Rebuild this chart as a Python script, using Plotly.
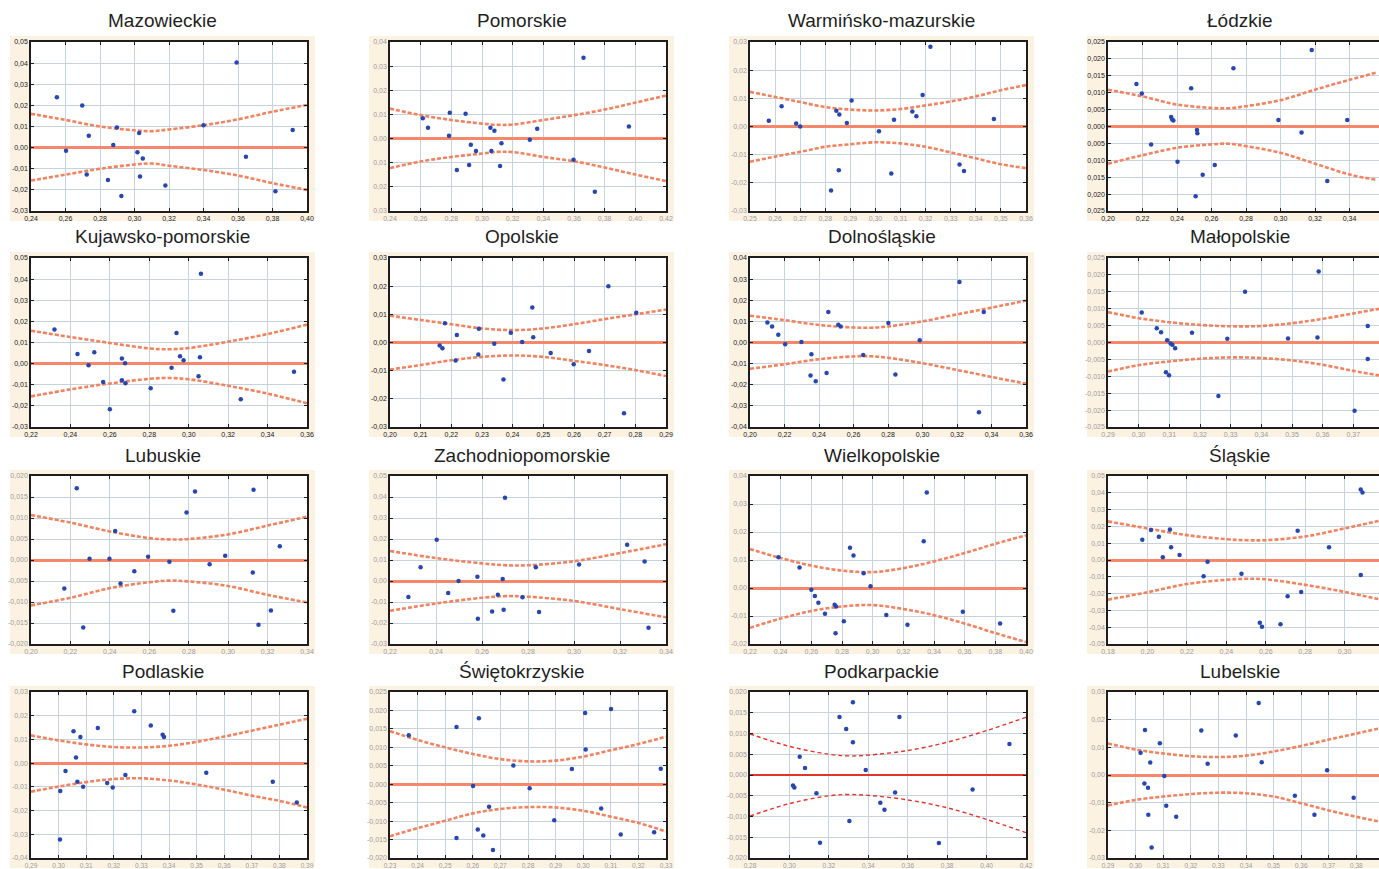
import numpy as np
import plotly.graph_objects as go

W, H = 1379, 869

# ---------------- data ----------------
maz_x = [0.255, 0.2603, 0.2697, 0.2723, 0.2735, 0.2846, 0.2877, 0.2898, 0.2924, 0.3017, 0.3027, 0.3032, 0.3048, 0.3179, 0.340, 0.3592, 0.3646, 0.3817, 0.3917]
maz_y = [0.0238, -0.0015, 0.0199, -0.0127, 0.0056, -0.0153, 0.0012, 0.0095, -0.0229, -0.0022, 0.0069, -0.0137, -0.0052, -0.0179, 0.0106, 0.0403, -0.0043, -0.0207, 0.0083]
maz_bx = [0.24, 0.26, 0.28, 0.30, 0.31, 0.32, 0.34, 0.36, 0.38, 0.40]
maz_up = [0.0160, 0.0131, 0.0100, 0.0082, 0.0078, 0.0086, 0.0106, 0.0134, 0.0170, 0.0202]
maz_lo = [-0.0156, -0.0128, -0.0100, -0.0080, -0.0075, -0.0086, -0.0106, -0.0132, -0.0168, -0.0200]

pom_x = [0.2614, 0.2648, 0.279, 0.2785, 0.2893, 0.2927, 0.2916, 0.2836, 0.2961, 0.3055, 0.3081, 0.3061, 0.3127, 0.3118, 0.3312, 0.336, 0.3597, 0.3662, 0.3736, 0.3958]
pom_y = [0.0084, 0.0045, 0.0107, 0.0012, 0.0103, -0.0026, -0.0109, -0.013, -0.0051, 0.0045, 0.0032, -0.0051, -0.0019, -0.0114, -0.0005, 0.0041, -0.0088, 0.0335, -0.022, 0.005]
pom_bx = [0.24, 0.26, 0.28, 0.30, 0.31, 0.32, 0.34, 0.36, 0.38, 0.40, 0.42]
pom_up = [0.0124, 0.0097, 0.0077, 0.0062, 0.0057, 0.0058, 0.0077, 0.0097, 0.0120, 0.0149, 0.0178]
pom_lo = [-0.0122, -0.0095, -0.0076, -0.0062, -0.0055, -0.0056, -0.0076, -0.0094, -0.0120, -0.0149, -0.0176]

war_x = [0.2575, 0.2626, 0.2684, 0.270, 0.2823, 0.2844, 0.2856, 0.2854, 0.2886, 0.2905, 0.3014, 0.3063, 0.3074, 0.3147, 0.3163, 0.3188, 0.3219, 0.3335, 0.3353, 0.3472]
war_y = [0.002, 0.0072, 0.0011, 0.0, -0.0227, 0.0056, 0.0043, -0.0155, 0.0012, 0.0092, -0.0017, -0.0167, 0.0024, 0.0053, 0.0036, 0.0112, 0.0283, -0.0135, -0.0158, 0.0027]
war_bx = [0.25, 0.26, 0.27, 0.28, 0.29, 0.30, 0.31, 0.32, 0.33, 0.34, 0.35, 0.36]
war_up = [0.0123, 0.0105, 0.0087, 0.0069, 0.0060, 0.0057, 0.0062, 0.0075, 0.0089, 0.0107, 0.0129, 0.0147]
war_lo = [-0.0125, -0.0107, -0.0090, -0.0072, -0.0063, -0.0056, -0.0060, -0.0072, -0.0092, -0.0113, -0.0134, -0.0148]

lod_x = [0.2165, 0.2196, 0.225, 0.2366, 0.2372, 0.2379, 0.2403, 0.2482, 0.2516, 0.2518, 0.2508, 0.2549, 0.2619, 0.2727, 0.2988, 0.3122, 0.3181, 0.3271, 0.3387]
lod_y = [0.0126, 0.0098, -0.0053, 0.0028, 0.0021, 0.0018, -0.0104, 0.0113, -0.001, -0.002, -0.0206, -0.0143, -0.0114, 0.0172, 0.0019, -0.0018, 0.0226, -0.0161, 0.0019]
lod_bx = [0.20, 0.22, 0.24, 0.26, 0.27, 0.28, 0.30, 0.32, 0.34, 0.356]
lod_up = [0.0109, 0.0089, 0.0065, 0.0055, 0.0054, 0.0060, 0.0078, 0.0109, 0.0138, 0.0160]
lod_lo = [-0.0110, -0.0085, -0.0063, -0.0053, -0.0051, -0.0058, -0.0078, -0.0110, -0.0142, -0.0158]

kuj_x = [0.2319, 0.2436, 0.2492, 0.2521, 0.2566, 0.260, 0.2661, 0.2677, 0.2661, 0.2679, 0.2807, 0.2913, 0.2938, 0.2956, 0.2974, 0.3062, 0.3057, 0.305, 0.3264, 0.3534]
kuj_y = [0.0161, 0.0046, -0.0008, 0.0054, -0.0087, -0.0216, 0.0024, 0.0002, -0.0079, -0.0093, -0.0117, -0.002, 0.0145, 0.0035, 0.0016, 0.0426, 0.003, -0.006, -0.0169, -0.0038]
kuj_bx = [0.22, 0.24, 0.26, 0.28, 0.29, 0.30, 0.32, 0.34, 0.36]
kuj_up = [0.0156, 0.0126, 0.0098, 0.0072, 0.0068, 0.0074, 0.0104, 0.0140, 0.0185]
kuj_lo = [-0.0155, -0.0122, -0.0094, -0.0072, -0.0068, -0.0074, -0.0105, -0.0142, -0.0188]

opo_x = [0.2162, 0.2171, 0.2179, 0.2218, 0.2214, 0.2288, 0.2290, 0.234, 0.237, 0.2394, 0.2431, 0.2464, 0.2467, 0.2524, 0.2599, 0.2649, 0.2712, 0.2763, 0.2803]
opo_y = [-0.0011, -0.002, 0.0068, 0.0027, -0.0064, -0.0043, 0.0049, -0.0004, -0.0131, 0.0035, 0.0002, 0.0124, 0.0019, -0.0037, -0.0077, -0.003, 0.020, -0.0251, 0.0106]
opo_bx = [0.20, 0.21, 0.22, 0.23, 0.24, 0.25, 0.26, 0.27, 0.28, 0.29]
opo_up = [0.0095, 0.0080, 0.0065, 0.0050, 0.0044, 0.0050, 0.0065, 0.0083, 0.0100, 0.0117]
opo_lo = [-0.0096, -0.0080, -0.0063, -0.0051, -0.0046, -0.0051, -0.0065, -0.0080, -0.0098, -0.0119]

dol_x = [0.2101, 0.2128, 0.2164, 0.2204, 0.2298, 0.2356, 0.2351, 0.2381, 0.2444, 0.2454, 0.2512, 0.2525, 0.2656, 0.2802, 0.2843, 0.2984, 0.3214, 0.3327, 0.3355]
dol_y = [0.0095, 0.0076, 0.0037, -0.0008, 0.0002, -0.0056, -0.0156, -0.0183, -0.0144, 0.0144, 0.0084, 0.0076, -0.0059, 0.0092, -0.0151, 0.0011, 0.0286, -0.033, 0.0144]
dol_bx = [0.20, 0.22, 0.24, 0.26, 0.27, 0.28, 0.30, 0.32, 0.34, 0.36]
dol_up = [0.0127, 0.0106, 0.0083, 0.0071, 0.0070, 0.0076, 0.0100, 0.0133, 0.0165, 0.0198]
dol_lo = [-0.0124, -0.0103, -0.0079, -0.0066, -0.0065, -0.0072, -0.0098, -0.0130, -0.0163, -0.0195]

mal_x = [0.3010, 0.3059, 0.3073, 0.3093, 0.3104, 0.311, 0.3119, 0.3089, 0.3099, 0.3174, 0.326, 0.3289, 0.3347, 0.3487, 0.3587, 0.3583, 0.3704, 0.3747, 0.3747]
mal_y = [0.0089, 0.0042, 0.003, 0.0007, -0.0003, -0.0007, -0.0017, -0.0088, -0.0097, 0.0029, -0.0158, 0.0011, 0.015, 0.0012, 0.021, 0.0015, -0.0202, 0.0049, -0.0049]
mal_bx = [0.29, 0.30, 0.31, 0.32, 0.33, 0.34, 0.35, 0.36, 0.37, 0.38]
mal_up = [0.0090, 0.0072, 0.0060, 0.0052, 0.0048, 0.0049, 0.0057, 0.0070, 0.0086, 0.0102]
mal_lo = [-0.0086, -0.0067, -0.0056, -0.0048, -0.0044, -0.0046, -0.0053, -0.0066, -0.0084, -0.0100]

lub_x = [0.2169, 0.2232, 0.2265, 0.2297, 0.2398, 0.2427, 0.2454, 0.2524, 0.2594, 0.2702, 0.2722, 0.2789, 0.2832, 0.2906, 0.2985, 0.3125, 0.3129, 0.3154, 0.3217, 0.3262]
lub_y = [-0.0068, 0.0171, -0.0161, 0.0003, 0.0003, 0.0069, -0.0056, -0.0027, 0.0008, -0.0004, -0.0121, 0.0113, 0.0163, -0.001, 0.001, -0.003, 0.0167, -0.0154, -0.012, 0.0033]
lub_bx = [0.20, 0.22, 0.24, 0.26, 0.27, 0.28, 0.30, 0.32, 0.34]
lub_up = [0.0107, 0.0089, 0.0068, 0.0052, 0.0049, 0.0050, 0.0061, 0.0082, 0.0103]
lub_lo = [-0.0108, -0.0090, -0.0067, -0.0053, -0.0049, -0.0051, -0.0062, -0.0083, -0.0101]

zac_x = [0.228, 0.2333, 0.2403, 0.2453, 0.2498, 0.258, 0.2582, 0.2644, 0.2669, 0.269, 0.270, 0.2694, 0.2776, 0.2834, 0.2848, 0.3022, 0.3231, 0.3307, 0.3324]
zac_y = [-0.0076, 0.0065, 0.0196, -0.0057, 0.0, 0.002, -0.018, -0.0145, -0.0066, 0.001, 0.0397, -0.0137, -0.0077, 0.0065, -0.0148, 0.0079, 0.0173, 0.0093, -0.0223]
zac_bx = [0.22, 0.24, 0.26, 0.27, 0.28, 0.30, 0.32, 0.34]
zac_up = [0.0143, 0.0109, 0.0084, 0.0075, 0.0075, 0.0094, 0.0133, 0.0175]
zac_lo = [-0.0142, -0.0107, -0.0080, -0.0072, -0.0075, -0.0095, -0.0134, -0.0173]

wie_x = [0.2386, 0.2523, 0.260, 0.2623, 0.2646, 0.2689, 0.2752, 0.2761, 0.2812, 0.2758, 0.2852, 0.2875, 0.2941, 0.2986, 0.3089, 0.3227, 0.3333, 0.3353, 0.3588, 0.3831]
wie_y = [0.011, 0.0073, -0.0006, -0.0029, -0.0053, -0.0092, -0.006, -0.0066, -0.0119, -0.0162, 0.0144, 0.0116, 0.0053, 0.0006, -0.0096, -0.0131, 0.0167, 0.0341, -0.0085, -0.0127]
wie_bx = [0.22, 0.24, 0.26, 0.28, 0.30, 0.32, 0.34, 0.36, 0.38, 0.40]
wie_up = [0.0139, 0.0107, 0.0080, 0.0062, 0.0057, 0.0071, 0.0095, 0.0125, 0.0158, 0.0188]
wie_lo = [-0.0142, -0.0109, -0.0082, -0.0066, -0.0061, -0.0075, -0.0097, -0.0127, -0.0161, -0.0193]

sla_x = [0.1974, 0.2018, 0.2058, 0.2114, 0.2078, 0.2120, 0.2163, 0.2285, 0.2305, 0.2477, 0.257, 0.2581, 0.2675, 0.2711, 0.2762, 0.278, 0.2921, 0.3082, 0.3091, 0.3082]
sla_y = [0.012, 0.0178, 0.0138, 0.0182, 0.0016, 0.0076, 0.003, -0.0096, -0.001, -0.0082, -0.0374, -0.0398, -0.0382, -0.0216, 0.0174, -0.019, 0.0076, 0.042, 0.0402, -0.009]
sla_bx = [0.18, 0.20, 0.22, 0.24, 0.25, 0.26, 0.28, 0.30, 0.32]
sla_up = [0.0230, 0.0188, 0.0148, 0.0124, 0.0118, 0.0118, 0.0140, 0.0188, 0.0240]
sla_lo = [-0.0236, -0.0192, -0.0143, -0.0118, -0.0112, -0.0115, -0.0148, -0.0190, -0.0240]

pdl_x = [0.3006, 0.3005, 0.3025, 0.3054, 0.3063, 0.3068, 0.3079, 0.3089, 0.3142, 0.3176, 0.3196, 0.3242, 0.3274, 0.3334, 0.3377, 0.3382, 0.3535, 0.3776, 0.3863]
pdl_y = [-0.0117, -0.0322, -0.0033, 0.0135, 0.0024, -0.0078, 0.011, -0.01, 0.0148, -0.0084, -0.0103, -0.005, 0.0219, 0.0159, 0.012, 0.011, -0.004, -0.0078, -0.0166]
pdl_bx = [0.29, 0.30, 0.31, 0.32, 0.33, 0.34, 0.35, 0.36, 0.37, 0.38, 0.39]
pdl_up = [0.0117, 0.0096, 0.0079, 0.0068, 0.0066, 0.0073, 0.0090, 0.0112, 0.0137, 0.0162, 0.0187]
pdl_lo = [-0.0120, -0.0099, -0.0080, -0.0067, -0.0064, -0.0073, -0.0090, -0.0112, -0.0137, -0.0159, -0.0187]

swi_x = [0.2368, 0.2541, 0.2622, 0.2541, 0.2601, 0.2618, 0.2638, 0.2659, 0.2673, 0.2747, 0.2806, 0.2895, 0.2959, 0.3007, 0.3009, 0.3065, 0.3101, 0.3136, 0.3257, 0.3281]
swi_y = [0.0133, 0.0155, 0.0179, -0.0146, -0.0005, -0.0123, -0.0139, -0.0061, -0.0178, 0.0051, -0.0011, -0.0098, 0.0041, 0.0193, 0.0094, -0.0066, 0.0204, -0.0136, -0.013, 0.0042]
swi_bx = [0.23, 0.24, 0.25, 0.26, 0.27, 0.28, 0.29, 0.30, 0.31, 0.32, 0.33]
swi_up = [0.0144, 0.0120, 0.0100, 0.0082, 0.0068, 0.0062, 0.0064, 0.0075, 0.0092, 0.0109, 0.0129]
swi_lo = [-0.0141, -0.0119, -0.0099, -0.0079, -0.0067, -0.0062, -0.0063, -0.0072, -0.0088, -0.0105, -0.0128]

pdk_x = [0.3018, 0.3025, 0.3052, 0.3079, 0.3137, 0.3155, 0.3254, 0.3288, 0.3304, 0.3322, 0.3322, 0.3387, 0.3461, 0.3482, 0.3536, 0.3558, 0.3758, 0.3929, 0.4116]
pdk_y = [-0.0025, -0.003, 0.0044, 0.0017, -0.0044, -0.0163, 0.014, 0.0111, -0.0111, 0.0175, 0.0079, 0.0012, -0.0067, -0.0084, -0.0042, 0.014, -0.0164, -0.0035, 0.0075]
pdk_bx = [0.28, 0.30, 0.32, 0.33, 0.34, 0.36, 0.38, 0.40, 0.42]
pdk_up = [0.0099, 0.0069, 0.0050, 0.0046, 0.0048, 0.0059, 0.0079, 0.0107, 0.0139]
pdk_lo = [-0.0099, -0.0069, -0.0050, -0.0047, -0.0049, -0.0060, -0.0079, -0.0107, -0.0139]

lbl_x = [0.3018, 0.3034, 0.3032, 0.3045, 0.3053, 0.3046, 0.3058, 0.3088, 0.3104, 0.3111, 0.3147, 0.3238, 0.3261, 0.3363, 0.3446, 0.3457, 0.3577, 0.3648, 0.3694, 0.3790]
lbl_y = [0.008, 0.0163, -0.0031, -0.0046, 0.0045, -0.0144, -0.0262, 0.0115, -0.0004, -0.0111, -0.0151, 0.0161, 0.0041, 0.0143, 0.026, 0.0046, -0.0075, -0.0144, 0.0017, -0.0082]
lbl_bx = [0.29, 0.30, 0.31, 0.32, 0.33, 0.34, 0.35, 0.36, 0.37, 0.38, 0.39]
lbl_up = [0.0114, 0.0092, 0.0078, 0.0068, 0.0065, 0.0070, 0.0085, 0.0105, 0.0128, 0.0150, 0.0172]
lbl_lo = [-0.0110, -0.0090, -0.0078, -0.0069, -0.0064, -0.0066, -0.0078, -0.0102, -0.0128, -0.0151, -0.0172]

titles = ["Mazowieckie", "Pomorskie", "Warmińsko-mazurskie", "Łódzkie",
          "Kujawsko-pomorskie", "Opolskie", "Dolnośląskie", "Małopolskie",
          "Lubuskie", "Zachodniopomorskie", "Wielkopolskie", "Śląskie",
          "Podlaskie", "Świętokrzyskie", "Podkarpackie", "Lubelskie"]

series = [
    (maz_x, maz_y, maz_bx, maz_up, maz_lo), (pom_x, pom_y, pom_bx, pom_up, pom_lo),
    (war_x, war_y, war_bx, war_up, war_lo), (lod_x, lod_y, lod_bx, lod_up, lod_lo),
    (kuj_x, kuj_y, kuj_bx, kuj_up, kuj_lo), (opo_x, opo_y, opo_bx, opo_up, opo_lo),
    (dol_x, dol_y, dol_bx, dol_up, dol_lo), (mal_x, mal_y, mal_bx, mal_up, mal_lo),
    (lub_x, lub_y, lub_bx, lub_up, lub_lo), (zac_x, zac_y, zac_bx, zac_up, zac_lo),
    (wie_x, wie_y, wie_bx, wie_up, wie_lo), (sla_x, sla_y, sla_bx, sla_up, sla_lo),
    (pdl_x, pdl_y, pdl_bx, pdl_up, pdl_lo), (swi_x, swi_y, swi_bx, swi_up, swi_lo),
    (pdk_x, pdk_y, pdk_bx, pdk_up, pdk_lo), (lbl_x, lbl_y, lbl_bx, lbl_up, lbl_lo),
]

# axis settings: (xmin, xmax, xstep, ymin, ymax, ystep, ydecimals, dark labels, y minus sign)
axes_cfg = [
    (0.24, 0.40, 0.02, -0.03, 0.05, 0.01, 2, True, True),
    (0.24, 0.42, 0.02, -0.03, 0.04, 0.01, 2, False, False),
    (0.25, 0.36, 0.01, -0.03, 0.03, 0.01, 2, False, True),
    (0.20, 0.36, 0.02, -0.025, 0.025, 0.005, 3, True, False),
    (0.22, 0.36, 0.02, -0.03, 0.05, 0.01, 2, True, True),
    (0.20, 0.29, 0.01, -0.03, 0.03, 0.01, 2, True, True),
    (0.20, 0.36, 0.02, -0.04, 0.04, 0.01, 2, True, True),
    (0.29, 0.38, 0.01, -0.025, 0.025, 0.005, 3, False, True),
    (0.20, 0.34, 0.02, -0.020, 0.020, 0.005, 3, False, True),
    (0.22, 0.34, 0.02, -0.03, 0.05, 0.01, 2, False, True),
    (0.22, 0.40, 0.02, -0.02, 0.04, 0.01, 2, False, True),
    (0.18, 0.32, 0.02, -0.05, 0.05, 0.01, 2, False, True),
    (0.29, 0.39, 0.01, -0.04, 0.03, 0.01, 2, False, True),
    (0.23, 0.33, 0.01, -0.020, 0.025, 0.005, 3, False, True),
    (0.28, 0.42, 0.02, -0.020, 0.020, 0.005, 3, False, True),
    (0.29, 0.39, 0.01, -0.03, 0.03, 0.01, 2, False, True),
]

# ---------------- layout geometry (pixels) ----------------
COL_LEFT = [31, 390, 750, 1108]
ROW_TOP = [42, 258, 476, 692]
ROW_H = [169, 169, 168, 166]
PW = 276

CREAM = "#fcf2e2"
GRID = "#c6d2de"
BAND = "#f3825f"
ZERO = "#f6876b"
DOT = "#2747b0"


def fmt(v, dec, minus=True):
    s = f"{abs(v):.{dec}f}".replace(".", ",")
    if v < -1e-12 and minus:
        s = "-" + s
    return s


fig = go.Figure()
shapes = []
annotations = []
layout_axes = {}

for i, (title, (sx, sy, bx, up, lo), cfg) in enumerate(zip(titles, series, axes_cfg)):
    row, col = divmod(i, 4)
    left, top = COL_LEFT[col], ROW_TOP[row]
    PH = ROW_H[row]
    right = min(left + PW, W)
    frac = (right - left) / PW
    xmin, xmax, xstep, ymin, ymax, ystep, ydec, dark, yminus = cfg
    xr_end = xmin + frac * (xmax - xmin)

    n = i + 1
    xa = "x" if n == 1 else f"x{n}"
    ya = "y" if n == 1 else f"y{n}"
    xkey = "xaxis" if n == 1 else f"xaxis{n}"
    ykey = "yaxis" if n == 1 else f"yaxis{n}"

    special = (title == "Podkarpackie")
    band_color = "#e3342c" if special else BAND
    band_w = 1.4 if special else 2.6
    band_dash = "4px,3px" if special else "4px,2px"

    fig.add_trace(go.Scatter(x=bx, y=up, mode="lines", xaxis=xa, yaxis=ya,
                             line=dict(color=band_color, width=band_w, dash=band_dash,
                                       shape="spline", smoothing=1.0),
                             hoverinfo="skip", showlegend=False))
    fig.add_trace(go.Scatter(x=bx, y=lo, mode="lines", xaxis=xa, yaxis=ya,
                             line=dict(color=band_color, width=band_w, dash=band_dash,
                                       shape="spline", smoothing=1.0),
                             hoverinfo="skip", showlegend=False))
    fig.add_trace(go.Scatter(x=sx, y=sy, mode="markers", xaxis=xa, yaxis=ya,
                             marker=dict(color=DOT, size=4.5, line=dict(width=0)),
                             showlegend=False))

    xticks = [round(v, 4) for v in np.arange(xmin, xr_end + 1e-9, xstep)]
    yticks = [round(v, 4) for v in np.arange(ymin, ymax + 1e-9, ystep)]
    lab_color = "#1a1a1a" if dark else "#9c9c9c"
    tfont = dict(family="Liberation Sans, Arial, sans-serif", size=7, color=lab_color)
    xfont = dict(tfont, size=6.5) if row == 3 else tfont

    layout_axes[xkey] = dict(
        domain=[left / W, right / W], anchor=ya, range=[xmin, xr_end],
        tickvals=xticks, ticktext=[fmt(v, 2) for v in xticks],
        showgrid=True, gridcolor=GRID, gridwidth=1, zeroline=False,
        showline=True, linecolor="#1e1e1e", linewidth=1.5, mirror="allticks",
        ticks="inside", ticklen=3, tickcolor="#1e1e1e", tickfont=xfont,
        automargin=False, fixedrange=True)
    layout_axes[ykey] = dict(
        domain=[1 - (top + PH) / H, 1 - top / H], anchor=xa, range=[ymin, ymax],
        tickvals=yticks, ticktext=[fmt(v, ydec, yminus) for v in yticks],
        showgrid=True, gridcolor=GRID, gridwidth=1,
        zeroline=True, zerolinecolor=("#e3342c" if special else ZERO),
        zerolinewidth=(1.5 if special else 3),
        showline=True, linecolor="#1e1e1e", linewidth=1.5,
        mirror=("allticks" if col < 3 else False),
        ticks="inside", ticklen=3, tickcolor="#1e1e1e", tickfont=tfont,
        automargin=False, fixedrange=True)

    # cream panel background and white plotting area
    cl, cr = left - 21, left + PW + 8
    ct, cb = top - 6, top + PH + 10
    shapes.append(dict(type="rect", xref="paper", yref="paper", layer="below",
                       x0=cl / W, x1=min(cr, W + 20) / W, y0=1 - cb / H, y1=1 - ct / H,
                       fillcolor=CREAM, line=dict(width=0)))
    shapes.append(dict(type="rect", xref="paper", yref="paper", layer="below",
                       x0=left / W, x1=right / W, y0=1 - (top + PH) / H, y1=1 - top / H,
                       fillcolor="white", line=dict(width=0)))

    annotations.append(dict(text=title, xref="paper", yref="paper",
                            x=((cl + cr) / 2) / W, y=1 - (top - 21) / H,
                            xanchor="center", yanchor="middle", showarrow=False,
                            font=dict(family="Liberation Sans, Arial, sans-serif",
                                      size=19, color="#1f1f1f")))

fig.update_layout(
    width=W, height=H,
    margin=dict(l=0, r=0, t=0, b=0),
    paper_bgcolor="white", plot_bgcolor="rgba(0,0,0,0)",
    shapes=shapes, annotations=annotations,
    showlegend=False,
    **layout_axes,
)

fig.write_html("out.html", config={"displayModeBar": False})
